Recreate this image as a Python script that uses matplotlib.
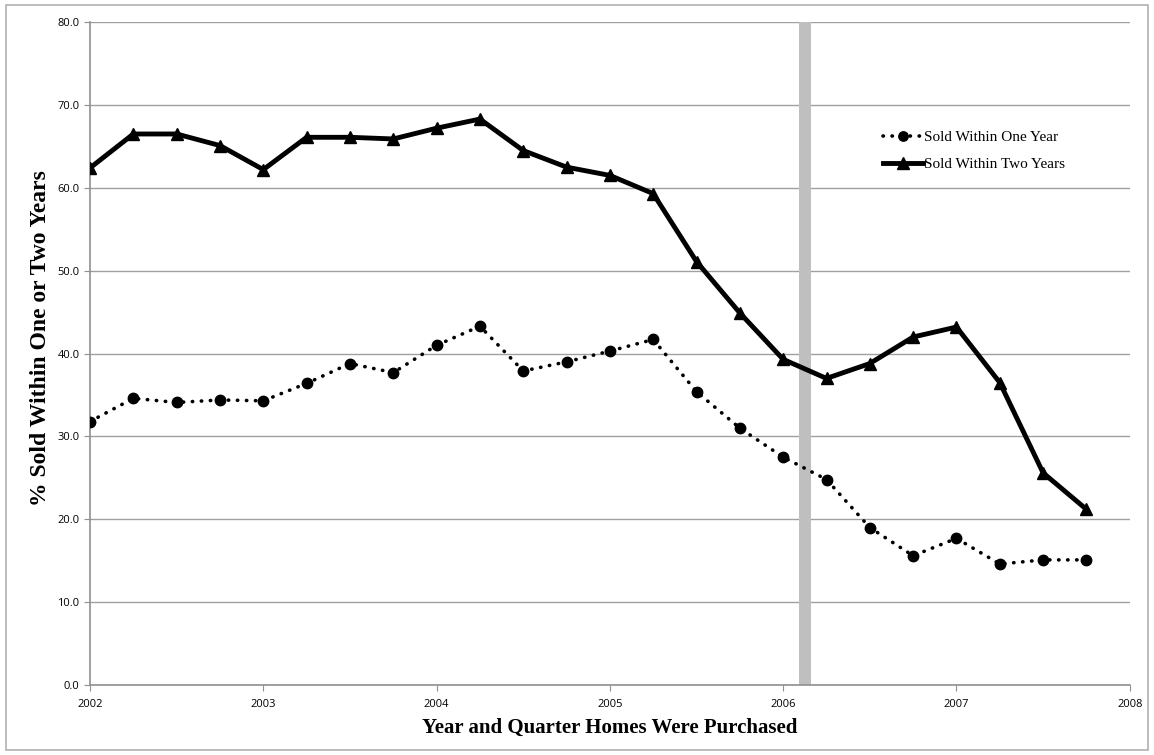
import matplotlib.pyplot as plt
from matplotlib.patches import Rectangle

# quarters 2002Q1 .. 2007Q4
quarters = [2002 + i * 0.25 for i in range(24)]
sold_one_year = [31.8, 34.6, 34.1, 34.4, 34.3, 36.4, 38.8, 37.7, 41.0, 43.3, 37.9, 39.0,
                 40.3, 41.7, 35.4, 31.0, 27.5, 24.8, 19.0, 15.6, 17.7, 14.6, 15.1, 15.1]
sold_two_years = [62.4, 66.5, 66.5, 65.1, 62.2, 66.1, 66.1, 65.9, 67.2, 68.3, 64.5, 62.5,
                  61.5, 59.3, 51.1, 44.9, 39.3, 37.0, 38.8, 42.0, 43.2, 36.5, 25.6, 21.2]
band = (2006.09, 2006.16)
x_ticks = [2002, 2003, 2004, 2005, 2006, 2007, 2008]
y_ticks = [0, 10, 20, 30, 40, 50, 60, 70, 80]

fig = plt.figure(figsize=(11.54, 7.55), dpi=100)
ax = fig.add_axes([0.078, 0.0927, 0.901, 0.878])

# thin frame round the whole picture
fig.patches.append(Rectangle((0.005, 0.006), 0.99, 0.988, transform=fig.transFigure,
                             fill=False, edgecolor='#b0b0b0', linewidth=1.2))

ax.axvspan(band[0], band[1], color='#bfbfbf', zorder=1, linewidth=0)

ax.plot(quarters, sold_one_year, linestyle=(0, (0.1, 2.4)), dash_capstyle='round',
        color='black', linewidth=2.6, marker='o', markersize=7.5,
        label='Sold Within One Year', zorder=3)
ax.plot(quarters, sold_two_years, linestyle='-', color='black', linewidth=3.5,
        marker='^', markersize=9, label='Sold Within Two Years', zorder=3)

ax.set_xlim(2002, 2008)
ax.set_ylim(0, 80)
ax.set_xticks(x_ticks)
ax.set_yticks(y_ticks)
ax.set_yticklabels([f"{v:.1f}" for v in y_ticks])
ax.tick_params(axis='both', direction='out', length=4, color='#909090',
               labelsize=8, labelcolor='black')
ax.tick_params(axis='x', pad=6)
for lab in ax.get_xticklabels() + ax.get_yticklabels():
    lab.set_fontfamily('Open Sans')

ax.yaxis.grid(True, color='#a0a0a0', linewidth=1)
ax.set_axisbelow(True)
for s in ['top', 'right']:
    ax.spines[s].set_visible(False)
for s in ['left', 'bottom']:
    ax.spines[s].set_color('#909090')
    ax.spines[s].set_linewidth(1.2)

ax.set_xlabel('Year and Quarter Homes Were Purchased', fontfamily='Liberation Serif',
              fontweight='bold', fontsize=15, labelpad=6)
ax.set_ylabel('% Sold Within One or Two Years', fontfamily='Liberation Serif',
              fontweight='bold', fontsize=17, labelpad=5)
ax.yaxis.label.set_y(0.523)

ax.legend(loc='upper left', bbox_to_anchor=(0.7625, 0.837), frameon=False,
          prop={'family': 'Liberation Serif', 'size': 11}, handlelength=2.6,
          handletextpad=0.1, borderpad=0, borderaxespad=0, labelspacing=0.9,
          markerscale=0.9)

fig.savefig('out.png', dpi=100)
